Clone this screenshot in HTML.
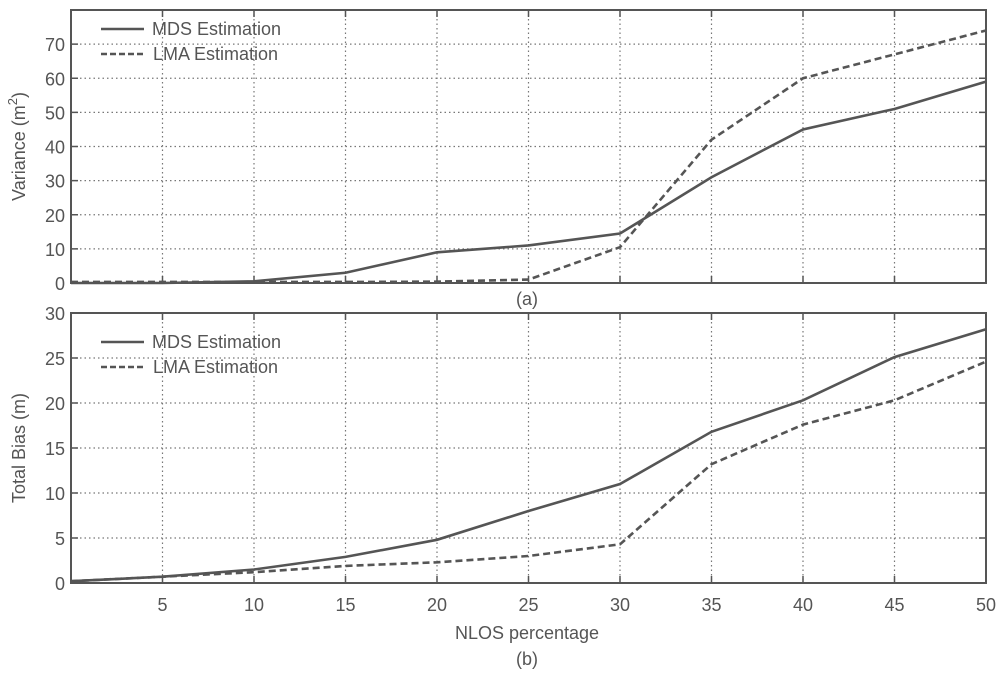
<!DOCTYPE html>
<html><head><meta charset="utf-8"><style>
body{margin:0;background:#fff}
svg text{font-family:"Liberation Sans",sans-serif;fill:#555;font-size:18px}
</style></head><body>
<svg id="c" width="1000" height="673" viewBox="0 0 1000 673" xmlns="http://www.w3.org/2000/svg"></svg>
<script>
const xVals=[0,5,10,15,20,25,30,35,40,45,50];
const varMDS=[0,0,0.5,3,9,11,14.5,31,45,51,59];
const varLMA=[0.3,0.3,0.3,0.3,0.4,1,10.5,42,60,67,74];
const biasMDS=[0.2,0.7,1.5,2.9,4.8,8,11,16.8,20.3,25.1,28.2];
const biasLMA=[0.2,0.7,1.2,1.9,2.3,3,4.3,13.2,17.6,20.3,24.6];
const xTicks=[5,10,15,20,25,30,35,40,45,50];
const varTicks=[0,10,20,30,40,50,60,70];
const biasTicks=[0,5,10,15,20,25,30];

const svg=document.getElementById('c');
const NS='http://www.w3.org/2000/svg';
function mk(t,a,p){const e=document.createElementNS(NS,t);for(const k in a)e.setAttribute(k,a[k]);(p||svg).appendChild(e);return e;}
const X0=71,X1=986;
const sx=v=>X0+(v-0)/50*(X1-X0);

function panel(name,top,bot,ymax,yt,s1,s2,ylabel,leg){
  const g=mk('g',{});
  
  
  const sy=v=>bot-v/ymax*(bot-top);
  xTicks.forEach(t=>{
    const l=mk('line',{x1:sx(t),x2:sx(t),y1:top,y2:bot,stroke:'#777','stroke-width':1.2,'stroke-dasharray':'1.5 3'},g);
    
    mk('line',{x1:sx(t),x2:sx(t),y1:bot,y2:bot-7,stroke:'#555','stroke-width':1.5},g);
    mk('line',{x1:sx(t),x2:sx(t),y1:top,y2:top+7,stroke:'#555','stroke-width':1.5},g);
  });
  yt.forEach(t=>{
    const l=mk('line',{x1:X0,x2:X1,y1:sy(t),y2:sy(t),stroke:'#777','stroke-width':1.2,'stroke-dasharray':'1.5 3'},g);
    
    mk('line',{x1:X0,x2:X0+7,y1:sy(t),y2:sy(t),stroke:'#555','stroke-width':1.5},g);
    mk('line',{x1:X1,x2:X1-7,y1:sy(t),y2:sy(t),stroke:'#555','stroke-width':1.5},g);
    const tx=mk('text',{x:X0-6,y:sy(t)+7,'text-anchor':'end'},g);tx.textContent=t;
    
  });
  const fr=mk('rect',{x:X0,y:top,width:X1-X0,height:bot-top,fill:'none',stroke:'#555','stroke-width':2},g);
  
  const p1=mk('polyline',{points:xVals.map((x,i)=>sx(x)+','+sy(s1[i])).join(' '),fill:'none',stroke:'#555','stroke-width':2.6},g);
  
  const p2=mk('polyline',{points:xVals.map((x,i)=>sx(x)+','+sy(s2[i])).join(' '),fill:'none',stroke:'#555','stroke-width':2.6,'stroke-dasharray':'7 4'},g);
  
  const yl=mk('text',{x:0,y:0,transform:`translate(25,${(top+bot)/2}) rotate(-90)`,'text-anchor':'middle','font-size':'20'},g);
  yl.innerHTML=ylabel;
  
  const lg=mk('g',{},g);
  
  mk('line',{x1:101,x2:144,y1:leg,y2:leg,stroke:'#555','stroke-width':2.6},lg);
  mk('line',{x1:101,x2:144,y1:leg+25,y2:leg+25,stroke:'#555','stroke-width':2.6,'stroke-dasharray':'6 3'},lg);
  const a=mk('text',{x:152,y:leg+6,'font-size':'17.5'},lg);a.textContent='MDS Estimation';
  
  const b=mk('text',{x:153,y:leg+31,'font-size':'17.5'},lg);b.textContent='LMA Estimation';
  
}
panel('variance-panel',10,283,80,varTicks,varMDS,varLMA,'Variance (m<tspan dy="-8" font-size="13">2</tspan><tspan dy="8">)</tspan>',29);
panel('bias-panel',313,583,30,biasTicks,biasMDS,biasLMA,'Total Bias (m)',342);
xTicks.forEach(t=>{
  const tx=mk('text',{x:sx(t),y:611,'text-anchor':'middle'});tx.textContent=t;
  
});
let t=mk('text',{x:527,y:305,'text-anchor':'middle','font-size':'17'});t.textContent='(a)';

t=mk('text',{x:527,y:639,'text-anchor':'middle'});t.textContent='NLOS percentage';

t=mk('text',{x:527,y:665,'text-anchor':'middle','font-size':'17'});t.textContent='(b)';

</script>
</body></html>
